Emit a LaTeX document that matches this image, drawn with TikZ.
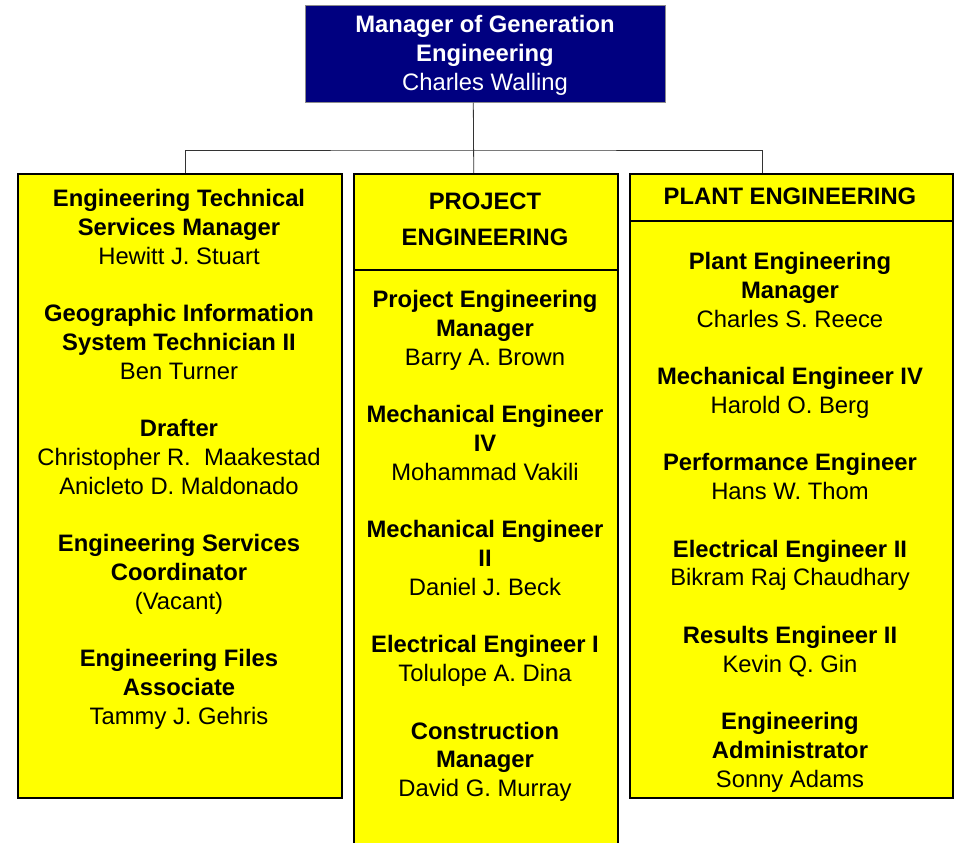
\documentclass[tikz,border=0pt]{standalone}
\usepackage{fontspec}
\setmainfont{Liberation Sans}
\definecolor{headblue}{HTML}{000080}
\definecolor{unityellow}{HTML}{FFFF00}
\begin{document}
\begin{tikzpicture}[x=1pt,y=-1pt]
	\tikzstyle{every node}+=[inner sep=0pt]
	\tikzstyle{unit}=[rectangle,draw=black,line width=1.5pt,fill=unityellow,anchor=north west]
	\tikzstyle{head}=[rectangle,draw=black!45,line width=0.6pt,fill=headblue,anchor=north west]
	\tikzstyle{txt}=[align=center,anchor=north,font=\fontsize{23.8}{28.8}\selectfont]
	\tikzstyle{link}=[draw=black!80,line width=0.8pt]
	\clip (0,0) rectangle (954,843);
	% boxes
	\node[head,minimum width=360,minimum height=97] (gen) at (305,5) {};
	\node[unit,minimum width=324,minimum height=624] (tech) at (17,173) {};
	\node[unit,minimum width=264,minimum height=690] (proj) at (353,173) {};
	\node[unit,minimum width=323,minimum height=624] (plant) at (629,173) {};
	\draw[line width=1.5pt] (353,270) -- (617,270);
	\draw[line width=1.5pt] (629,221) -- (952,221);
	% connectors
	\coordinate (bus) at (473,150);
	\draw[link] ([xshift=-12pt]gen.south) -- ([xshift=-12pt]proj.north);
	\draw[link] ([xshift=6pt]tech.north) |- (bus) -| ([xshift=-29pt]plant.north);
	% texts
	\node[txt,text=white] (gentxt) at (485,15) {\textbf{Manager of Generation}\\ \textbf{Engineering}\\ Charles Walling};
	\node[txt] (techtxt) at (179,189) {\textbf{Engineering Technical}\\ \textbf{Services Manager}\\ Hewitt J. Stuart\\[28.7pt]
		\textbf{Geographic Information}\\ \textbf{System Technician II}\\ Ben Turner\\[28.7pt]
		\textbf{Drafter}\\ Christopher R.\ \ Maakestad\\ Anicleto D. Maldonado\\[28.7pt]
		\textbf{Engineering Services}\\ \textbf{Coordinator}\\ (Vacant)\\[28.7pt]
		\textbf{Engineering Files}\\ \textbf{Associate}\\ Tammy J. Gehris};
	\node[txt] (projhead) at (485,193) {\textbf{PROJECT}\\[7.3pt] \textbf{ENGINEERING}};
	\node[txt] (projtxt) at (485,290) {\textbf{Project Engineering}\\ \textbf{Manager}\\ Barry A. Brown\\[28.7pt]
		\textbf{Mechanical Engineer}\\ \textbf{IV}\\ Mohammad Vakili\\[28.7pt]
		\textbf{Mechanical Engineer}\\ \textbf{II}\\ Daniel J. Beck\\[28.7pt]
		\textbf{Electrical Engineer I}\\ Tolulope A. Dina\\[28.7pt]
		\textbf{Construction}\\ \textbf{Manager}\\ David G. Murray};
	\node[txt] (planthead) at (790,188) {\textbf{PLANT ENGINEERING}};
	\node[txt] (planttxt) at (790,252) {\textbf{Plant Engineering}\\ \textbf{Manager}\\ Charles S. Reece\\[28.7pt]
		\textbf{Mechanical Engineer IV}\\ Harold O. Berg\\[28.7pt]
		\textbf{Performance Engineer}\\ Hans W. Thom\\[28.7pt]
		\textbf{Electrical Engineer II}\\ Bikram Raj Chaudhary\\[28.7pt]
		\textbf{Results Engineer II}\\ Kevin Q. Gin\\[28.7pt]
		\textbf{Engineering}\\ \textbf{Administrator}\\ Sonny Adams};
\end{tikzpicture}
\end{document}
